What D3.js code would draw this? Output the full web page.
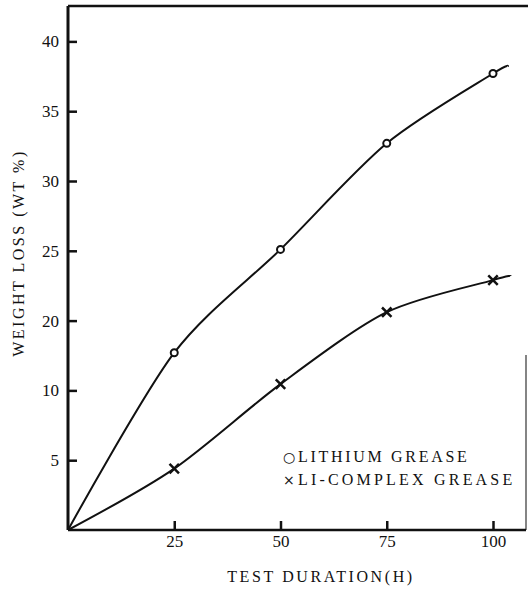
<!DOCTYPE html>
<html>
<head>
<meta charset="utf-8">
<script src="https://cdn.jsdelivr.net/npm/d3@7"></script>
<style>
  body { margin: 0; background: #fff; }
  text { font-family: "Liberation Serif", "DejaVu Serif", serif; fill: #111; }
</style>
</head>
<body>
<div id="container"></div>
<script>
/* CONSTANTS AND GLOBALS */
const width = 528,
  height = 589,
  plotLeft = 68,
  plotBottom = 530,
  plotTop = 6,
  plotRight = 526;

// tick labels as printed on the original figure (note: no "15")
const yTickValues = [5, 10, 20, 25, 30, 35, 40];
const xTickValues = [25, 50, 75, 100];

// measured points (hours, weight loss %)
const markerHours = [25, 50, 75, 100];
const lithiumMarks = [15.4, 25.1, 32.7, 37.7];
const complexMarks = [4.4, 10.9, 20.6, 22.9];

// drawn curves (start at origin, small tail past 100 h)
const lithiumCurveHours = [0, 25, 50, 75, 100, 103.5];
const lithiumCurve = [0, 15.4, 25.1, 32.7, 37.7, 38.2];
const complexCurveHours = [0, 25, 50, 75, 100, 104.2];
const complexCurve = [0, 4.4, 10.9, 20.6, 22.9, 23.2];

const legend = [{symbol: "\u25CB", text: "LITHIUM GREASE", spacing: 2.7},
                {symbol: "\u00D7", text: "LI-COMPLEX GREASE", spacing: 3.2}];

const svg = d3.select("#container")
  .append("svg")
  .attr("width", width)
  .attr("height", height);

/* SCALES */
const xScale = d3.scaleLinear()
  .domain([0, 100])
  .range([plotLeft, 493]);

// the printed y axis is evenly spaced but labelled 5,10,20,25... so use a polylinear scale
const step = 69.8;
const yScale = d3.scaleLinear()
  .domain([0, 5, 10, 20, 40])
  .range([plotBottom, plotBottom - step, plotBottom - 2 * step, plotBottom - 3 * step, plotBottom - 7 * step]);

/* FRAME */
svg.append("line")
  .attr("x1", plotLeft).attr("x2", width)
  .attr("y1", plotTop).attr("y2", plotTop)
  .style("stroke", "#111").style("stroke-width", 2.5);
svg.append("line")
  .attr("x1", plotRight).attr("x2", plotRight)
  .attr("y1", 355).attr("y2", plotBottom)
  .style("stroke", "#333").style("stroke-width", 1.2);

// y axis
const yAxis = d3.axisLeft(yScale)
  .tickValues(yTickValues)
  .tickSizeInner(-9)
  .tickSizeOuter(0);
const gy = svg.append("g")
  .attr("transform", `translate(${plotLeft}, 0)`)
  .call(yAxis);
gy.select(".domain").attr("d", `M0,${plotTop}V${plotBottom}`).style("stroke", "#111").style("stroke-width", 3);
gy.selectAll(".tick line").style("stroke", "#111").style("stroke-width", 2.5);
gy.selectAll(".tick text").style("font-size", "17px").attr("x", -9);

// x axis
const xAxis = d3.axisBottom(xScale)
  .tickValues(xTickValues)
  .tickSizeInner(-9)
  .tickSizeOuter(0);
const gx = svg.append("g")
  .attr("transform", `translate(0, ${plotBottom})`)
  .call(xAxis);
gx.select(".domain").attr("d", `M${plotLeft},0H${plotRight}`).style("stroke", "#111").style("stroke-width", 2.5);
gx.selectAll(".tick line").style("stroke", "#111").style("stroke-width", 2.5);
gx.selectAll(".tick text").style("font-size", "17px").attr("y", 5);

// axis titles
svg.append("text")
  .attr("x", 321)
  .attr("y", 582)
  .attr("text-anchor", "middle")
  .style("font-size", "16px")
  .style("letter-spacing", "2.6px")
  .text("TEST DURATION(H)");

svg.append("text")
  .attr("transform", "translate(24, 253) rotate(-90)")
  .attr("text-anchor", "middle")
  .style("font-size", "16px")
  .style("letter-spacing", "2.5px")
  .text("WEIGHT LOSS (WT %)");

/* CURVES */
const line = d3.line()
  .x(d => xScale(d[0]))
  .y(d => yScale(d[1]))
  .curve(d3.curveCardinal.tension(0.15));

[[lithiumCurveHours, lithiumCurve], [complexCurveHours, complexCurve]].forEach(([hrs, vals]) => {
  svg.append("path")
    .datum(hrs.map((h, i) => [h, vals[i]]))
    .attr("d", line)
    .style("fill", "none")
    .style("stroke", "#111")
    .style("stroke-width", 2);
});

/* MARKERS */
svg.selectAll(".lith")
  .data(markerHours.map((h, i) => [h, lithiumMarks[i]]))
  .join("circle")
  .attr("class", "lith")
  .attr("cx", d => xScale(d[0]))
  .attr("cy", d => yScale(d[1]))
  .attr("r", 3.5)
  .style("fill", "#fff")
  .style("stroke", "#111")
  .style("stroke-width", 2);

svg.selectAll(".cplx")
  .data(markerHours.map((h, i) => [h, complexMarks[i]]))
  .join("path")
  .attr("class", "cplx")
  .attr("transform", d => `translate(${xScale(d[0])},${yScale(d[1])})`)
  .attr("d", d3.symbol().type(d3.symbolX).size(60))
  .style("fill", "none")
  .style("stroke", "#111")
  .style("stroke-width", 2.5);

/* LEGEND */
legend.forEach((d, i) => {
  const t = svg.append("text")
    .attr("x", 283)
    .attr("y", 462 + i * 23)
    .style("font-size", "16px")
    .style("letter-spacing", d.spacing + "px");
  t.append("tspan").text(d.symbol).style("font-family", "DejaVu Sans").style("font-size", "14px");
  t.append("tspan").text(d.text);
});
</script>
</body>
</html>
